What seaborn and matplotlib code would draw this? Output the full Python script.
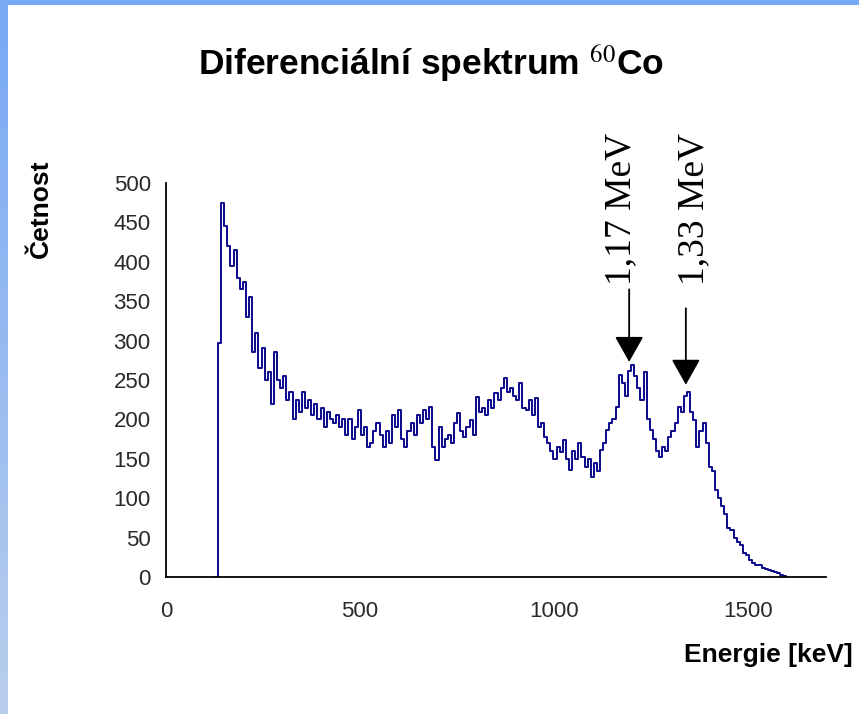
import numpy as np
import pandas as pd
import seaborn as sns
import matplotlib.pyplot as plt

# channel grid of the spectrum (keV)
e_start = 126
e_step = 8
# counts, one per channel
counts = [0, 297, 475, 445, 420, 395, 415, 380, 365, 375,
          330, 355, 285, 310, 265, 290, 250, 260, 220, 285,
          250, 240, 255, 225, 235, 200, 225, 210, 235, 215,
          225, 205, 220, 200, 215, 190, 210, 200, 195, 205,
          190, 200, 180, 200, 175, 190, 212, 180, 190, 165,
          170, 185, 195, 180, 165, 185, 170, 205, 190, 212,
          175, 165, 185, 195, 180, 205, 195, 212, 200, 216,
          165, 148, 190, 165, 175, 180, 170, 195, 208, 185,
          178, 190, 199, 180, 228, 210, 215, 205, 225, 215,
          233, 225, 240, 252, 235, 240, 230, 225, 246, 215,
          212, 225, 205, 227, 190, 195, 178, 170, 160, 150,
          165, 158, 174, 150, 136, 160, 150, 170, 152, 140,
          150, 127, 145, 135, 161, 170, 186, 195, 200, 216,
          256, 246, 230, 262, 269, 255, 240, 225, 260, 200,
          187, 175, 160, 152, 165, 160, 178, 185, 195, 216,
          210, 230, 235, 210, 199, 165, 185, 195, 170, 140,
          135, 110, 100, 90, 80, 62, 60, 50, 45, 40,
          30, 28, 22, 18, 15, 15, 12, 10, 9, 8,
          6, 5, 3, 1, 0]

peak_labels = ['1,17 MeV', '1,33 MeV']
peak_energy = [1193, 1339]
peak_top = [273, 244]
label_x = [1172, 1360]

energy = e_start + e_step * np.arange(len(counts))
df = pd.DataFrame({'energy': energy, 'counts': counts})

sns.set_style("white")
plt.rcParams['font.family'] = ['Liberation Sans', 'DejaVu Sans']
plt.rcParams['mathtext.fontset'] = 'stix'
plt.rcParams['text.color'] = 'black'
plt.rcParams['axes.labelcolor'] = 'black'

fig = plt.figure(figsize=(8.59, 7.14), dpi=100)
fig.patch.set_facecolor('white')

# blue frame on top and left
top = fig.add_axes([0, 1 - 5 / 714, 1, 5 / 714])
top.set_facecolor('#78A9F5')
top.set_xticks([]); top.set_yticks([])
for s in top.spines.values():
    s.set_visible(False)
left = fig.add_axes([0, 0, 8 / 859, 1])
grad = np.linspace(0, 1, 100).reshape(-1, 1)
cmap = sns.blend_palette(['#78A9F5', '#B9CEEC'], as_cmap=True)
left.imshow(grad, aspect='auto', cmap=cmap)
left.set_axis_off()

ax = fig.add_axes([166 / 859, 137 / 714, 660 / 859, 394 / 714])
sns.lineplot(data=df, x='energy', y='counts', ax=ax, estimator=None,
             drawstyle='steps-post', color='#08088C', linewidth=1.4)

ax.set_xlim(0, 1700)
ax.set_ylim(0, 500)
ax.set_xticks([0, 500, 1000, 1500])
ax.set_yticks(range(0, 501, 50))
ax.tick_params(axis='both', direction='out', length=5, width=1.3,
               labelsize=16, labelcolor='#2a2a2a', color='black', pad=6)
ax.tick_params(axis='x', pad=12)
for side in ['top', 'right']:
    ax.spines[side].set_visible(False)
for side in ['left', 'bottom']:
    ax.spines[side].set_color('black')
    ax.spines[side].set_linewidth(1.3)

ax.set_xlabel('Energie [keV]', fontsize=19, fontweight='bold', ha='right',
              va='center')
ax.xaxis.set_label_coords(1.04, -0.198)
ax.set_ylabel('Četnost', fontsize=19, fontweight='bold', va='center')
ax.yaxis.set_label_coords(-0.19, 0.935)

for lab, e, t, lx in zip(peak_labels, peak_energy, peak_top, label_x):
    tail = t + 92 if e < 1300 else t + 97
    ax.annotate('', xy=(e, t), xytext=(e, tail),
                arrowprops=dict(arrowstyle='-|>,head_width=0.45,head_length=0.8',
                                mutation_scale=20, color='black', lw=1.3,
                                shrinkA=0, shrinkB=0))
    ax.text(lx, 370, lab, rotation=90, ha='center', va='bottom',
            family='Liberation Serif', fontsize=27, clip_on=False)

fig.text(0.502, 0.91, 'Diferenciální spektrum $^{60}$Co', ha='center',
         va='center', fontsize=25.5, fontweight='bold')

fig.savefig('out.png', dpi=100, facecolor='white')
